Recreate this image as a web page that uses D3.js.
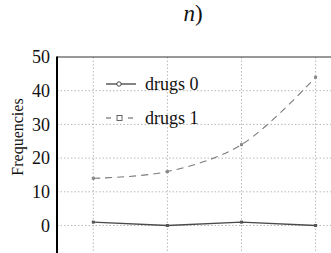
<!DOCTYPE html>
<html><head><meta charset="utf-8">
<script src="https://cdn.jsdelivr.net/npm/d3@7"></script>
<style>body{margin:0;background:#fff}svg{display:block}
svg text{font-family:"Liberation Serif","Times New Roman",Times,serif;}</style>
</head><body>
<svg id="c" width="331" height="253"></svg>
<script>
const categories = ["c1","c2","c3","c4"];
const drugs0 = [1, 0, 1, 0];
const drugs1 = [14, 16, 24, 44];
const yTicks = [0, 10, 20, 30, 40, 50];
const seriesNames = ["drugs 0", "drugs 1"];

const svg = d3.select("#c");
const x = d3.scalePoint().domain(categories).range([93.3, 315.6]);
const y = d3.scaleLinear().domain([0, 50]).range([225.5, 57]);
const left = 57, right = 360, bottom = 260;

// grid
const g = svg.append("g");
g.selectAll(".hg").data(yTicks.slice(0,-1)).enter().append("line")
  .attr("x1", left).attr("x2", right).attr("y1", d=>y(d)).attr("y2", d=>y(d))
  .attr("stroke", "#b8b8b8").attr("stroke-width", 1).attr("stroke-dasharray", "1.5,2");
g.selectAll(".vg").data(categories).enter().append("line")
  .attr("x1", d=>x(d)).attr("x2", d=>x(d)).attr("y1", y(50)).attr("y2", bottom)
  .attr("stroke", "#b8b8b8").attr("stroke-width", 1).attr("stroke-dasharray", "1.5,2");

// top border
svg.append("line").attr("x1", left).attr("x2", right).attr("y1", y(50)).attr("y2", y(50))
  .attr("stroke", "#333").attr("stroke-width", 1.2);

// y axis
const yAxis = d3.axisLeft(y).tickValues(yTicks).tickSize(0).tickPadding(7);
const ya = svg.append("g").attr("transform", `translate(${left},0)`).call(yAxis);
ya.select(".domain").remove();
ya.attr("font-family", null);
ya.selectAll("text").style("font-size", "18px").attr("fill", "#111");
svg.append("line").attr("x1", left).attr("x2", left).attr("y1", y(50)-0.5).attr("y2", bottom)
  .attr("stroke", "#000").attr("stroke-width", 2);

// y label
svg.append("text").attr("transform", `translate(23,137) rotate(-90)`)
  .attr("text-anchor", "middle").style("font-size", "16px")
  .attr("fill", "#111").text("Frequencies");

// title
const t = svg.append("text").attr("x", 193).attr("y", 21).attr("text-anchor", "middle")
  .style("font-size", "23px").attr("fill", "#111");
t.append("tspan").attr("font-style", "italic").text("n");
t.append("tspan").text(")");

// lines
const line0 = d3.line().x((d,i)=>x(categories[i])).y(d=>y(d));
const line1 = d3.line().x((d,i)=>x(categories[i])).y(d=>y(d)).curve(d3.curveCatmullRom.alpha(0.5));
svg.append("path").attr("d", line0(drugs0)).attr("fill", "none")
  .attr("stroke", "#4a4a4a").attr("stroke-width", 1.4);
svg.append("path").attr("d", line1(drugs1)).attr("fill", "none")
  .attr("stroke", "#7a7a7a").attr("stroke-width", 1.1).attr("stroke-dasharray", "7,5");

// markers
[drugs0, drugs1].forEach((s, k) => {
  svg.selectAll(null).data(s).enter().append("rect")
    .attr("x", (d,i)=>x(categories[i])-1.5).attr("y", d=>y(d)-1.5)
    .attr("width", 3).attr("height", 3)
    .attr("fill", k===0 ? "#555" : "#888");
});

// legend
const lg = svg.append("g");
lg.append("line").attr("x1", 106).attr("x2", 136).attr("y1", 84).attr("y2", 84)
  .attr("stroke", "#333").attr("stroke-width", 1.2);
lg.append("circle").attr("cx", 119).attr("cy", 84).attr("r", 2.2)
  .attr("fill", "#fff").attr("stroke", "#333").attr("stroke-width", 0.9);
lg.append("line").attr("x1", 106).attr("x2", 137).attr("y1", 118).attr("y2", 118)
  .attr("stroke", "#555").attr("stroke-width", 1).attr("stroke-dasharray", "5,6");
lg.append("rect").attr("x", 117).attr("y", 115.5).attr("width", 5).attr("height", 5)
  .attr("fill", "#fff").attr("stroke", "#555").attr("stroke-width", 0.9);
lg.selectAll(null).data(seriesNames).enter().append("text")
  .attr("x", 145).attr("y", (d,i)=> i===0 ? 90 : 124)
  .style("font-size", "18px").attr("fill", "#111").text(d=>d);
</script>
</body></html>
